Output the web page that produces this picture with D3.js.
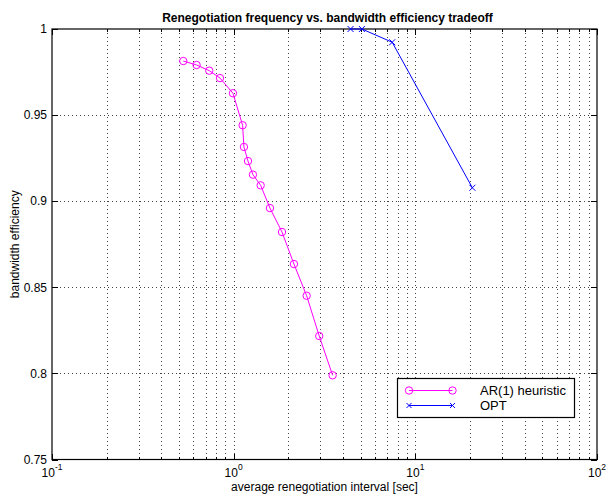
<!DOCTYPE html>
<html>
<head>
<meta charset="utf-8">
<script src="https://cdn.jsdelivr.net/npm/d3@7"></script>
<style>
  html, body { margin: 0; padding: 0; background: #fff; }
  svg { display: block; }
  text { font-family: "Liberation Sans", Arial, Helvetica, sans-serif; fill: #000; }
</style>
</head>
<body>
<svg id="chart" width="607" height="498"></svg>
<script>
// AR(1) heuristic: average renegotiation interval [sec] vs. bandwidth efficiency
const arInterval = [0.528, 0.625, 0.734, 0.841, 0.991, 1.12, 1.139, 1.199, 1.277, 1.408, 1.584, 1.845, 2.147, 2.522, 2.958, 3.505];
const arEfficiency = [0.9814, 0.9791, 0.9758, 0.9715, 0.9627, 0.9441, 0.9315, 0.9233, 0.9154, 0.9092, 0.896, 0.8821, 0.8635, 0.8451, 0.8217, 0.7989];

// Optimal renegotiation schedule
const optInterval = [4.40, 5.08, 7.46, 20.6];
const optEfficiency = [1.0, 1.0, 0.9923, 0.9078];

// Axis ticks
const xDecades = [0.1, 1, 10, 100];
const xDecadeExp = ["-1", "0", "1", "2"];
const yTicks = [0.75, 0.8, 0.85, 0.9, 0.95, 1];
const yTickLabels = ["0.75", "0.8", "0.85", "0.9", "0.95", "1"];

const seriesNames = ["AR(1) heuristic", "OPT"];
const titleText = "Renegotiation frequency vs. bandwidth efficiency tradeoff";
const xLabelText = "average renegotiation interval [sec]";
const yLabelText = "bandwidth efficiency";

const svg = d3.select("#chart");
const axLeft = 52, axRight = 597, axTop = 29, axBottom = 459.5;

const x = d3.scaleLog().domain([0.1, 100]).range([axLeft, axRight]);
const y = d3.scaleLinear().domain([0.75, 1]).range([axBottom, axTop]);

// minor positions on the log axis: 2..9 within each decade
const xMinor = [];
[0.1, 1, 10].forEach(d => { for (let k = 2; k <= 9; k++) xMinor.push(+(d * k).toPrecision(3)); });

// dotted grid
const grid = svg.append("g").attr("stroke", "#444").attr("stroke-width", 1)
  .attr("stroke-dasharray", "1,3").attr("shape-rendering", "crispEdges");
grid.selectAll("line.gx").data(xMinor.concat([1, 10])).join("line")
  .attr("x1", d => Math.round(x(d)) + 0.5).attr("x2", d => Math.round(x(d)) + 0.5)
  .attr("y1", axTop).attr("y2", axBottom);
grid.selectAll("line.gy").data(yTicks.slice(1, -1)).join("line")
  .attr("y1", d => Math.round(y(d)) + 0.5).attr("y2", d => Math.round(y(d)) + 0.5)
  .attr("x1", axLeft).attr("x2", axRight);

// tick marks, drawn inward on all four sides
const ticks = svg.append("g").attr("stroke", "#000").attr("stroke-width", 1).attr("shape-rendering", "crispEdges");
const major = 6, minor = 3;
xDecades.forEach(d => {
  const px = Math.round(x(d)) + 0.5;
  ticks.append("line").attr("x1", px).attr("x2", px).attr("y1", axBottom).attr("y2", axBottom - major);
  ticks.append("line").attr("x1", px).attr("x2", px).attr("y1", axTop).attr("y2", axTop + major);
});
xMinor.forEach(d => {
  const px = Math.round(x(d)) + 0.5;
  ticks.append("line").attr("x1", px).attr("x2", px).attr("y1", axBottom).attr("y2", axBottom - minor);
  ticks.append("line").attr("x1", px).attr("x2", px).attr("y1", axTop).attr("y2", axTop + minor);
});
yTicks.forEach(d => {
  const py = Math.round(y(d)) + 0.5;
  ticks.append("line").attr("y1", py).attr("y2", py).attr("x1", axLeft).attr("x2", axLeft + major);
  ticks.append("line").attr("y1", py).attr("y2", py).attr("x1", axRight).attr("x2", axRight - major);
});

// axes box
svg.append("rect").attr("x", axLeft).attr("y", axTop)
  .attr("width", axRight - axLeft).attr("height", axBottom - axTop)
  .attr("fill", "none").attr("stroke", "#000").attr("stroke-width", 1.2);

// y tick labels
svg.append("g").selectAll("text").data(yTicks).join("text")
  .attr("x", axLeft - 5).attr("y", d => y(d)).attr("dy", "0.35em")
  .attr("text-anchor", "end").attr("font-size", 12)
  .text((d, i) => yTickLabels[i]);

// x tick labels as powers of ten
const xl = svg.append("g").selectAll("text").data(xDecades).join("text")
  .attr("x", d => x(d)).attr("y", 477).attr("text-anchor", "middle").attr("font-size", 12);
xl.append("tspan").text("10");
xl.append("tspan").attr("dy", -7).attr("font-size", 8.5).text((d, i) => xDecadeExp[i]);

// titles
svg.append("text").attr("x", (axLeft + axRight) / 2 + 3).attr("y", 22)
  .attr("text-anchor", "middle").attr("font-size", 12).attr("font-weight", "bold").text(titleText);
svg.append("text").attr("x", (axLeft + axRight) / 2).attr("y", 491)
  .attr("text-anchor", "middle").attr("font-size", 12).text(xLabelText);
svg.append("text").attr("transform", `translate(19,${(axTop + axBottom) / 2}) rotate(-90)`)
  .attr("text-anchor", "middle").attr("font-size", 12).text(yLabelText);

// series
const line = d3.line().x(d => x(d[0])).y(d => y(d[1]));
const arPts = d3.zip(arInterval, arEfficiency);
const optPts = d3.zip(optInterval, optEfficiency);
const magenta = "#ff00ff", blue = "#0000ff";

svg.append("path").datum(arPts).attr("d", line).attr("fill", "none").attr("stroke", magenta).attr("stroke-width", 1);
svg.append("g").selectAll("circle").data(arPts).join("circle")
  .attr("cx", d => x(d[0])).attr("cy", d => y(d[1])).attr("r", 3.7)
  .attr("fill", "none").attr("stroke", magenta).attr("stroke-width", 1);

svg.append("path").datum(optPts).attr("d", line).attr("fill", "none").attr("stroke", blue).attr("stroke-width", 1);
const cross = (g, cx, cy, s, color) => {
  g.append("path").attr("d", `M${cx - s},${cy - s}L${cx + s},${cy + s}M${cx - s},${cy + s}L${cx + s},${cy - s}`)
    .attr("stroke", color).attr("stroke-width", 1).attr("fill", "none");
};
const optMarks = svg.append("g");
optPts.forEach(d => cross(optMarks, x(d[0]), y(d[1]), 3, blue));

// legend
const lg = svg.append("g");
lg.append("rect").attr("x", 397.5).attr("y", 378.5).attr("width", 177).attr("height", 39)
  .attr("fill", "#fff").attr("stroke", "#000").attr("stroke-width", 1.2);
const lx1 = 409, lx2 = 452.5;
const row1 = 390.5, row2 = 405.5;
lg.append("line").attr("x1", lx1).attr("x2", lx2).attr("y1", row1).attr("y2", row1).attr("stroke", magenta);
[lx1, lx2].forEach(px => lg.append("circle").attr("cx", px).attr("cy", row1).attr("r", 3.7)
  .attr("fill", "none").attr("stroke", magenta));
lg.append("line").attr("x1", lx1).attr("x2", lx2).attr("y1", row2).attr("y2", row2).attr("stroke", blue);
[lx1, lx2].forEach(px => cross(lg, px, row2, 2.5, blue));
lg.append("text").attr("x", 480).attr("y", row1 + 4.8).attr("font-size", 13).text(seriesNames[0]);
lg.append("text").attr("x", 480).attr("y", row2 + 4.6).attr("font-size", 13).text(seriesNames[1]);
</script>
</body>
</html>
